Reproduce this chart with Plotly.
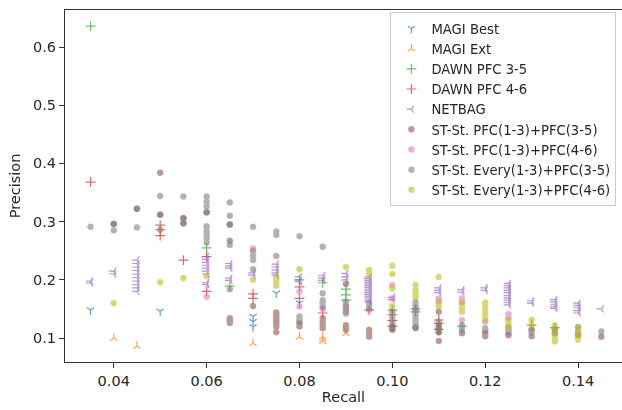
import plotly.graph_objects as go

# ---------------- data ----------------
magi_best_recall = [0.035, 0.05, 0.07, 0.07, 0.07, 0.075, 0.08]
magi_best_precision = [0.148, 0.146, 0.137, 0.128, 0.119, 0.177, 0.160]

magi_ext_recall = [0.04, 0.045, 0.07, 0.08, 0.085, 0.085, 0.085, 0.09]
magi_ext_precision = [0.100, 0.086, 0.091, 0.102, 0.102, 0.098, 0.094, 0.108]

dawn35_recall = [0.035, 0.06, 0.065, 0.08, 0.085, 0.09, 0.09, 0.09, 0.10,
                 0.105, 0.105, 0.115, 0.13, 0.135]
dawn35_precision = [0.636, 0.255, 0.189, 0.200, 0.195, 0.184, 0.174, 0.165, 0.148,
                    0.150, 0.145, 0.120, 0.122, 0.118]

dawn46_recall = [0.035, 0.05, 0.05, 0.05, 0.055, 0.06, 0.06, 0.07, 0.07, 0.08, 0.08,
                 0.085, 0.095, 0.10, 0.10, 0.10, 0.11, 0.11, 0.11]
dawn46_precision = [0.368, 0.294, 0.286, 0.276, 0.234, 0.240, 0.180, 0.176, 0.168,
                    0.188, 0.168, 0.143, 0.148, 0.140, 0.130, 0.120, 0.131, 0.125, 0.115]

netbag_recall = ([0.035] * 2 + [0.04] * 2 + [0.045] * 10 + [0.06] * 9 + [0.065] * 5
                 + [0.07] * 2 + [0.075] * 5 + [0.08] * 3 + [0.085] * 3 + [0.09] * 3
                 + [0.095] * 15 + [0.10] * 2 + [0.11] * 3 + [0.115] * 2 + [0.12] * 2
                 + [0.125] * 10 + [0.13] * 2 + [0.135] * 5 + [0.14] * 5 + [0.145])
netbag_precision = [0.198, 0.195,
                    0.215, 0.210,
                    0.234, 0.228, 0.222, 0.216, 0.210, 0.204, 0.198, 0.192, 0.186, 0.180,
                    0.240, 0.235, 0.230, 0.225, 0.220, 0.215, 0.210, 0.195, 0.192,
                    0.228, 0.224, 0.220, 0.203, 0.199,
                    0.212, 0.208,
                    0.227, 0.222, 0.217, 0.212, 0.208,
                    0.205, 0.200, 0.197,
                    0.207, 0.203, 0.199,
                    0.211, 0.205, 0.200,
                    0.205, 0.202, 0.199, 0.196, 0.193, 0.190, 0.187, 0.184, 0.181, 0.178,
                    0.175, 0.172, 0.169, 0.165, 0.162,
                    0.170, 0.166,
                    0.186, 0.182, 0.178,
                    0.183, 0.179,
                    0.186, 0.182,
                    0.194, 0.190, 0.186, 0.182, 0.178, 0.173, 0.169, 0.165, 0.161, 0.157,
                    0.164, 0.160,
                    0.166, 0.162, 0.158, 0.154, 0.151,
                    0.160, 0.156, 0.152, 0.147, 0.143,
                    0.150]

st_pfc35_recall = ([0.04, 0.045, 0.05, 0.05, 0.055, 0.055, 0.06] + [0.065] * 5 + [0.07]
                   + [0.075] * 8 + [0.08] * 2 + [0.085] * 4 + [0.09] * 4 + [0.095] * 3
                   + [0.10] * 2 + [0.105] + [0.11] * 5 + [0.115] + [0.12] * 2
                   + [0.125, 0.13, 0.135, 0.14, 0.145])
st_pfc35_precision = [0.296, 0.322, 0.384, 0.312, 0.306, 0.297, 0.316,
                      0.295, 0.267, 0.134, 0.130, 0.126,
                      0.155,
                      0.144, 0.140, 0.136, 0.132, 0.128, 0.124, 0.119, 0.110,
                      0.125, 0.120,
                      0.134, 0.128, 0.122, 0.117,
                      0.193, 0.122, 0.118, 0.114,
                      0.114, 0.108, 0.102,
                      0.120, 0.114,
                      0.118,
                      0.145, 0.120, 0.115, 0.110, 0.095,
                      0.108,
                      0.108, 0.103,
                      0.105, 0.103, 0.108, 0.105, 0.102]

st_pfc46_recall = [0.06, 0.07, 0.08, 0.08, 0.085, 0.09, 0.09, 0.095, 0.10, 0.10, 0.105,
                   0.11, 0.11, 0.115, 0.115, 0.115, 0.12, 0.125, 0.125, 0.125, 0.13,
                   0.135, 0.14]
st_pfc46_precision = [0.171, 0.254, 0.180, 0.154, 0.150, 0.154, 0.145, 0.148, 0.191, 0.168,
                      0.150, 0.168, 0.164, 0.168, 0.162, 0.131, 0.128, 0.141, 0.135, 0.105,
                      0.115, 0.115, 0.110]

st_every35_recall = ([0.035] + [0.04] * 2 + [0.045] * 2 + [0.05] * 3 + [0.055] * 3
                     + [0.06] * 9 + [0.065] * 5 + [0.07] * 5 + [0.075] * 3 + [0.08] * 4
                     + [0.085] * 5 + [0.09] * 5 + [0.095] * 3 + [0.10] * 6 + [0.105] * 9
                     + [0.11] * 4 + [0.115] * 3 + [0.12] * 2 + [0.125] * 3 + [0.13] * 2
                     + [0.135, 0.14, 0.145])
st_every35_precision = [0.291,
                        0.296, 0.285,
                        0.322, 0.290,
                        0.344, 0.312, 0.286,
                        0.343, 0.306, 0.297,
                        0.343, 0.334, 0.326, 0.316, 0.292, 0.284, 0.277, 0.271, 0.264,
                        0.333, 0.310, 0.295, 0.260, 0.184,
                        0.291, 0.249, 0.241, 0.234, 0.218,
                        0.283, 0.277, 0.241,
                        0.275, 0.137, 0.132, 0.128,
                        0.257, 0.177, 0.165, 0.160, 0.154,
                        0.162, 0.157, 0.152, 0.147, 0.142,
                        0.160, 0.155, 0.151,
                        0.146, 0.140, 0.134, 0.128, 0.122, 0.116,
                        0.162, 0.156, 0.150, 0.144, 0.138, 0.132, 0.126, 0.120, 0.117,
                        0.128, 0.122, 0.116, 0.110,
                        0.122, 0.117, 0.114,
                        0.117, 0.112,
                        0.118, 0.114, 0.110,
                        0.114, 0.110,
                        0.115, 0.119, 0.111]

st_every46_recall = ([0.04, 0.05, 0.055, 0.06, 0.07] + [0.075] * 4 + [0.08, 0.09]
                     + [0.095] * 2 + [0.10] * 4 + [0.105] * 4 + [0.11] * 4 + [0.115] * 4
                     + [0.12] * 6 + [0.125] * 3 + [0.13] * 2 + [0.135] * 7 + [0.14] * 5)
st_every46_precision = [0.160, 0.196, 0.203, 0.206, 0.200,
                        0.205, 0.200, 0.195, 0.190,
                        0.218, 0.222,
                        0.217, 0.211,
                        0.224, 0.210, 0.185, 0.155,
                        0.191, 0.182, 0.177, 0.170,
                        0.205, 0.162, 0.158, 0.154,
                        0.160, 0.155, 0.150, 0.145,
                        0.161, 0.154, 0.148, 0.142, 0.137, 0.131,
                        0.131, 0.125, 0.119,
                        0.131, 0.122,
                        0.122, 0.117, 0.112, 0.107, 0.102, 0.097, 0.094,
                        0.117, 0.112, 0.107, 0.102, 0.097]

x_tick_vals = [0.04, 0.06, 0.08, 0.10, 0.12, 0.14]
x_tick_text = ["0.04", "0.06", "0.08", "0.10", "0.12", "0.14"]
y_tick_vals = [0.1, 0.2, 0.3, 0.4, 0.5, 0.6]
y_tick_text = ["0.1", "0.2", "0.3", "0.4", "0.5", "0.6"]

# ---------------- figure ----------------
FONT = "DejaVu Sans"
fig = go.Figure()


def line_marker(name, xs, ys, symbol, color, size=7, width=1.2):
    fig.add_trace(go.Scatter(
        x=xs, y=ys, mode="markers", name=name, opacity=0.7,
        marker=dict(symbol=symbol, size=size, color=color,
                    line=dict(color=color, width=width)),
    ))


def dot_marker(name, xs, ys, color):
    fig.add_trace(go.Scatter(
        x=xs, y=ys, mode="markers", name=name, opacity=0.6,
        marker=dict(symbol="circle", size=6, color=color,
                    line=dict(color=color, width=0.5)),
    ))


line_marker("MAGI Best", magi_best_recall, magi_best_precision, "y-down", "#1f77b4", size=6)
line_marker("MAGI Ext", magi_ext_recall, magi_ext_precision, "y-up", "#ff7f0e", size=6)
line_marker("DAWN PFC 3-5", dawn35_recall, dawn35_precision, "cross-thin", "#2ca02c")
line_marker("DAWN PFC 4-6", dawn46_recall, dawn46_precision, "cross-thin", "#d62728")
line_marker("NETBAG", netbag_recall, netbag_precision, "y-left", "#9467bd", size=6)
dot_marker("ST-St. PFC(1-3)+PFC(3-5)", st_pfc35_recall, st_pfc35_precision, "#8c564b")
dot_marker("ST-St. PFC(1-3)+PFC(4-6)", st_pfc46_recall, st_pfc46_precision, "#e377c2")
dot_marker("ST-St. Every(1-3)+PFC(3-5)", st_every35_recall, st_every35_precision, "#7f7f7f")
dot_marker("ST-St. Every(1-3)+PFC(4-6)", st_every46_recall, st_every46_precision, "#bcbd22")

axis_common = dict(
    showgrid=False, zeroline=False, showline=True, linecolor="#333333", linewidth=1.2,
    ticks="outside", ticklen=5, tickwidth=1.2, tickcolor="#333333",
    tickfont=dict(family=FONT, size=14.5, color="#262626"),
)

fig.update_layout(
    width=622, height=410,
    margin=dict(l=65, r=0, t=10, b=48),
    paper_bgcolor="white", plot_bgcolor="white",
    font=dict(family=FONT, color="#262626"),
    showlegend=True,
    legend=dict(
        x=0.99, y=0.993, xanchor="right", yanchor="top",
        bgcolor="rgba(255,255,255,0.8)", bordercolor="#cccccc", borderwidth=1,
        font=dict(family=FONT, size=13.2, color="#262626"),
        tracegroupgap=0, itemwidth=30,
    ),
    xaxis=dict(
        range=[0.0295, 0.14946], tickvals=x_tick_vals, ticktext=x_tick_text,
        mirror=True,
        title=dict(text="Recall", font=dict(family=FONT, size=14.5, color="#262626"), standoff=4),
        **axis_common,
    ),
    yaxis=dict(
        range=[0.0588, 0.6636], tickvals=y_tick_vals, ticktext=y_tick_text,
        mirror=False,
        title=dict(text="Precision", font=dict(family=FONT, size=14.5, color="#262626"), standoff=8),
        **axis_common,
    ),
)

fig.write_html("out.html", config={"displayModeBar": False},
               post_script="document.body.style.margin='0';")
